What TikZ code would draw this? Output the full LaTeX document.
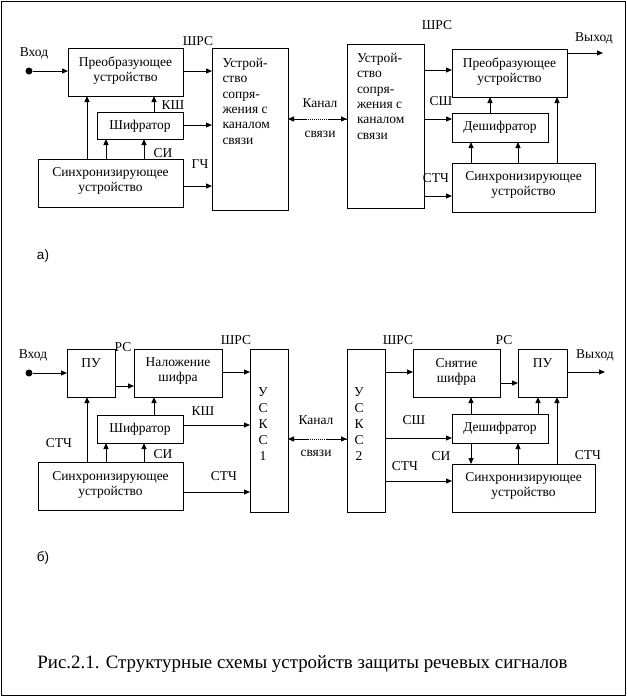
\documentclass[tikz,border=0pt]{standalone}
\usepackage{fontspec}
\setmainfont{Liberation Serif}
\newfontfamily\sansf{Liberation Sans}
\usetikzlibrary{arrows.meta}
\begin{document}
\begin{tikzpicture}[x=1pt,y=-1pt,
  every node/.style={inner sep=0pt, outer sep=0pt},
  box/.style={draw, line width=1pt, anchor=north west},
  txt/.style={font=\fontsize{13.5}{15}\selectfont, align=center},
  ltxt/.style={font=\fontsize{13.5}{15.4}\selectfont, align=left, anchor=north west},
  vtxt/.style={font=\fontsize{13.5}{16}\selectfont, align=center, anchor=north},
  lbl/.style={font=\fontsize{13.5}{15}\selectfont},
  dot/.style={circle, fill, minimum size=7pt},
  arr/.style={line width=1pt, -{Triangle[length=6pt,width=5pt]}},
  ln/.style={line width=1pt},
  dots/.style={line width=1pt, dash pattern=on 1pt off 1pt},
]
\useasboundingbox (0,0) rectangle (627,697);
\node[draw, line width=1pt, minimum width=624pt, minimum height=694pt, anchor=north west] (frame) at (1,1) {};

% ---------- a) boxes ----------
\node[box, minimum width=115pt, minimum height=48pt] (conv1) at (68,48) {};
\node[box, minimum width=76pt, minimum height=162pt] (usk1) at (212,48) {};
\node[box, minimum width=86pt, minimum height=27pt] (shf1) at (97,112) {};
\node[box, minimum width=145pt, minimum height=48pt] (sync1) at (38,159) {};
\node[box, minimum width=77pt, minimum height=164pt] (usk2) at (347,44) {};
\node[box, minimum width=115pt, minimum height=48pt] (conv2) at (452,49) {};
\node[box, minimum width=96pt, minimum height=29pt] (desh2) at (452,113) {};
\node[box, minimum width=143pt, minimum height=49pt] (sync2) at (452,163) {};

\node[txt] (tconv1) at (125.5,71) {Преобразующее\\устройство};
\node[ltxt] (tusk1) at (222.5,58) {Устрой-\\ство\\сопря-\\жения с\\каналом\\связи};
\node[txt] (tshf1) at (140,126) {Шифратор};
\node[txt] (tsync1) at (110.5,181) {Синхронизирующее\\устройство};
\node[ltxt] (tusk2) at (357,53) {Устрой-\\ство\\сопря-\\жения с\\каналом\\связи};
\node[txt] (tconv2) at (509.5,72) {Преобразующее\\устройство};
\node[txt] (tdesh2) at (500,127.5) {Дешифратор};
\node[txt] (tsync2) at (523.5,185) {Синхронизирующее\\устройство};

\node[lbl] (lvh1) at (34,53) {Вход};
\node[lbl] (lshrs1) at (198,41) {ШРС};
\node[lbl] (lksh1) at (173,105) {КШ};
\node[lbl] (lsi1) at (163,153) {СИ};
\node[lbl] (lgch1) at (200,164) {ГЧ};
\node[lbl] (lkan1) at (320,103) {Канал};
\node[lbl] (lsv1) at (320,134) {связи};
\node[lbl] (lshrs2) at (437,25) {ШРС};
\node[lbl] (lvyh1) at (594,38) {Выход};
\node[lbl] (lssh1) at (441,101) {СШ};
\node[lbl] (lstch1) at (436,178) {СТЧ};
\node[lbl, font=\sansf\fontsize{13.5}{15}\selectfont] (la) at (43,256) {а)};

\node[dot] (dot1) at (29,71) {};
\coordinate (out1) at (603,53);

\draw[arr] (dot1) -- (conv1.west |- dot1);
\draw[arr] (conv1.east |- 0,71) -- (usk1.west |- 0,71);
\draw[arr] (shf1.north -| 154,0) -- (conv1.south -| 154,0);
\draw[arr] (shf1.east |- 0,125) -- (usk1.west |- 0,125);
\draw[arr] (sync1.north -| 87,0) -- (conv1.south -| 87,0);
\draw[arr] (sync1.north -| 106,0) -- (shf1.south -| 106,0);
\draw[arr] (sync1.north -| 144,0) -- (shf1.south -| 144,0);
\draw[arr] (sync1.east |- 0,186) -- (usk1.west |- 0,186);
\draw[dots] (usk1.east |- 0,119) -- (usk2.west |- 0,119);
\draw[arr, shorten <=40pt] (usk2.west |- 0,119) -- (usk1.east |- 0,119);
\draw[arr, shorten <=40pt] (usk1.east |- 0,119) -- (usk2.west |- 0,119);
\draw[arr] (usk2.east |- 0,70) -- (conv2.west |- 0,70);
\draw[arr] (conv2.east |- out1) -- (out1);
\draw[arr] (usk2.east |- 0,119) -- (desh2.west |- 0,119);
\draw[arr] (desh2.north -| 490,0) -- (conv2.south -| 490,0);
\draw[arr] (sync2.north -| 557,0) -- (conv2.south -| 557,0);
\draw[arr] (sync2.north -| 471,0) -- (desh2.south -| 471,0);
\draw[arr] (sync2.north -| 518,0) -- (desh2.south -| 518,0);
\draw[arr] (usk2.east |- 0,196) -- (sync2.west |- 0,196);

% ---------- b) boxes ----------
\node[box, minimum width=48pt, minimum height=48pt] (pu1) at (67,349) {};
\node[box, minimum width=88pt, minimum height=48pt] (nal) at (134,349) {};
\node[box, minimum width=38pt, minimum height=163pt] (uskc1) at (250,349) {};
\node[box, minimum width=86pt, minimum height=28pt] (shf2) at (97,415) {};
\node[box, minimum width=145pt, minimum height=48pt] (sync3) at (38,462) {};
\node[box, minimum width=38pt, minimum height=163pt] (uskc2) at (347,349) {};
\node[box, minimum width=87pt, minimum height=48pt] (snat) at (413,349) {};
\node[box, minimum width=49pt, minimum height=48pt] (pu2) at (518,349) {};
\node[box, minimum width=96pt, minimum height=29pt] (desh3) at (452,414) {};
\node[box, minimum width=143pt, minimum height=48pt] (sync4) at (452,464) {};

\node[txt] (tpu1) at (91,363) {ПУ};
\node[txt] (tnal) at (178,371.5) {Наложение\\шифра};
\node[vtxt] (tuskc1) at (263,387.5) {У\\С\\К\\С\\1};
\node[txt] (tshf2) at (140,429) {Шифратор};
\node[txt] (tsync3) at (110.5,485) {Синхронизирующее\\устройство};
\node[vtxt] (tuskc2) at (359,387.5) {У\\С\\К\\С\\2};
\node[txt] (tsnat) at (456.5,372) {Снятие\\шифра};
\node[txt] (tpu2) at (542.5,363) {ПУ};
\node[txt] (tdesh3) at (500,428.5) {Дешифратор};
\node[txt] (tsync4) at (523.5,486) {Синхронизирующее\\устройство};

\node[lbl] (lvh2) at (33,355) {Вход};
\node[lbl] (lrs1) at (123,347) {РС};
\node[lbl] (lshrs3) at (236,340) {ШРС};
\node[lbl] (lksh2) at (203,411) {КШ};
\node[lbl] (lstch2) at (59,443) {СТЧ};
\node[lbl] (lsi2) at (163,454) {СИ};
\node[lbl] (lstch3) at (224,476) {СТЧ};
\node[lbl] (lkan2) at (316,420) {Канал};
\node[lbl] (lsv2) at (316,453) {связи};
\node[lbl] (lshrs4) at (398,340) {ШРС};
\node[lbl] (lrs2) at (504,340) {РС};
\node[lbl] (lvyh2) at (595,355) {Выход};
\node[lbl] (lssh2) at (414,420) {СШ};
\node[lbl] (lsi3) at (441,456) {СИ};
\node[lbl] (lstch4) at (405,466) {СТЧ};
\node[lbl] (lstch5) at (588,455) {СТЧ};
\node[lbl, font=\sansf\fontsize{13.5}{15}\selectfont] (lb) at (43,558) {б)};

\node[dot] (dot2) at (29,373) {};
\coordinate (out2) at (605,372);

\draw[arr] (dot2) -- (pu1.west |- dot2);
\draw[arr] (pu1.east |- 0,386) -- (nal.west |- 0,386);
\draw[arr] (nal.east |- 0,372) -- (uskc1.west |- 0,372);
\draw[arr] (shf2.north -| 154,0) -- (nal.south -| 154,0);
\draw[arr] (shf2.east |- 0,425) -- (uskc1.west |- 0,425);
\draw[arr] (sync3.north -| 87,0) -- (pu1.south -| 87,0);
\draw[arr] (sync3.north -| 106,0) -- (shf2.south -| 106,0);
\draw[arr] (sync3.north -| 144,0) -- (shf2.south -| 144,0);
\draw[arr] (sync3.east |- 0,492) -- (uskc1.west |- 0,492);
\draw[dots] (uskc1.east |- 0,439) -- (uskc2.west |- 0,439);
\draw[arr, shorten <=38pt] (uskc2.west |- 0,439) -- (uskc1.east |- 0,439);
\draw[arr, shorten <=38pt] (uskc1.east |- 0,439) -- (uskc2.west |- 0,439);
\draw[arr] (uskc2.east |- 0,372) -- (snat.west |- 0,372);
\draw[arr] (snat.east |- 0,383) -- (pu2.west |- 0,383);
\draw[arr] (pu2.east |- out2) -- (out2);
\draw[arr] (uskc2.east |- 0,438) -- (desh3.west |- 0,438);
\draw[arr] (desh3.north -| 471,0) -- (snat.south -| 471,0);
\draw[arr] (desh3.north -| 538,0) -- (pu2.south -| 538,0);
\draw[arr] (sync4.north -| 557,0) -- (pu2.south -| 557,0);
\draw[arr] (desh3.south -| 471,0) -- (sync4.north -| 471,0);
\draw[arr] (sync4.north -| 518,0) -- (desh3.south -| 518,0);
\draw[arr] (uskc2.east |- 0,481) -- (sync4.west |- 0,481);

\node[font=\fontsize{18.9}{21}\selectfont] (cap) at (302.5,664) {Рис.2.1. Структурные схемы устройств защиты речевых сигналов};
\end{tikzpicture}
\end{document}
